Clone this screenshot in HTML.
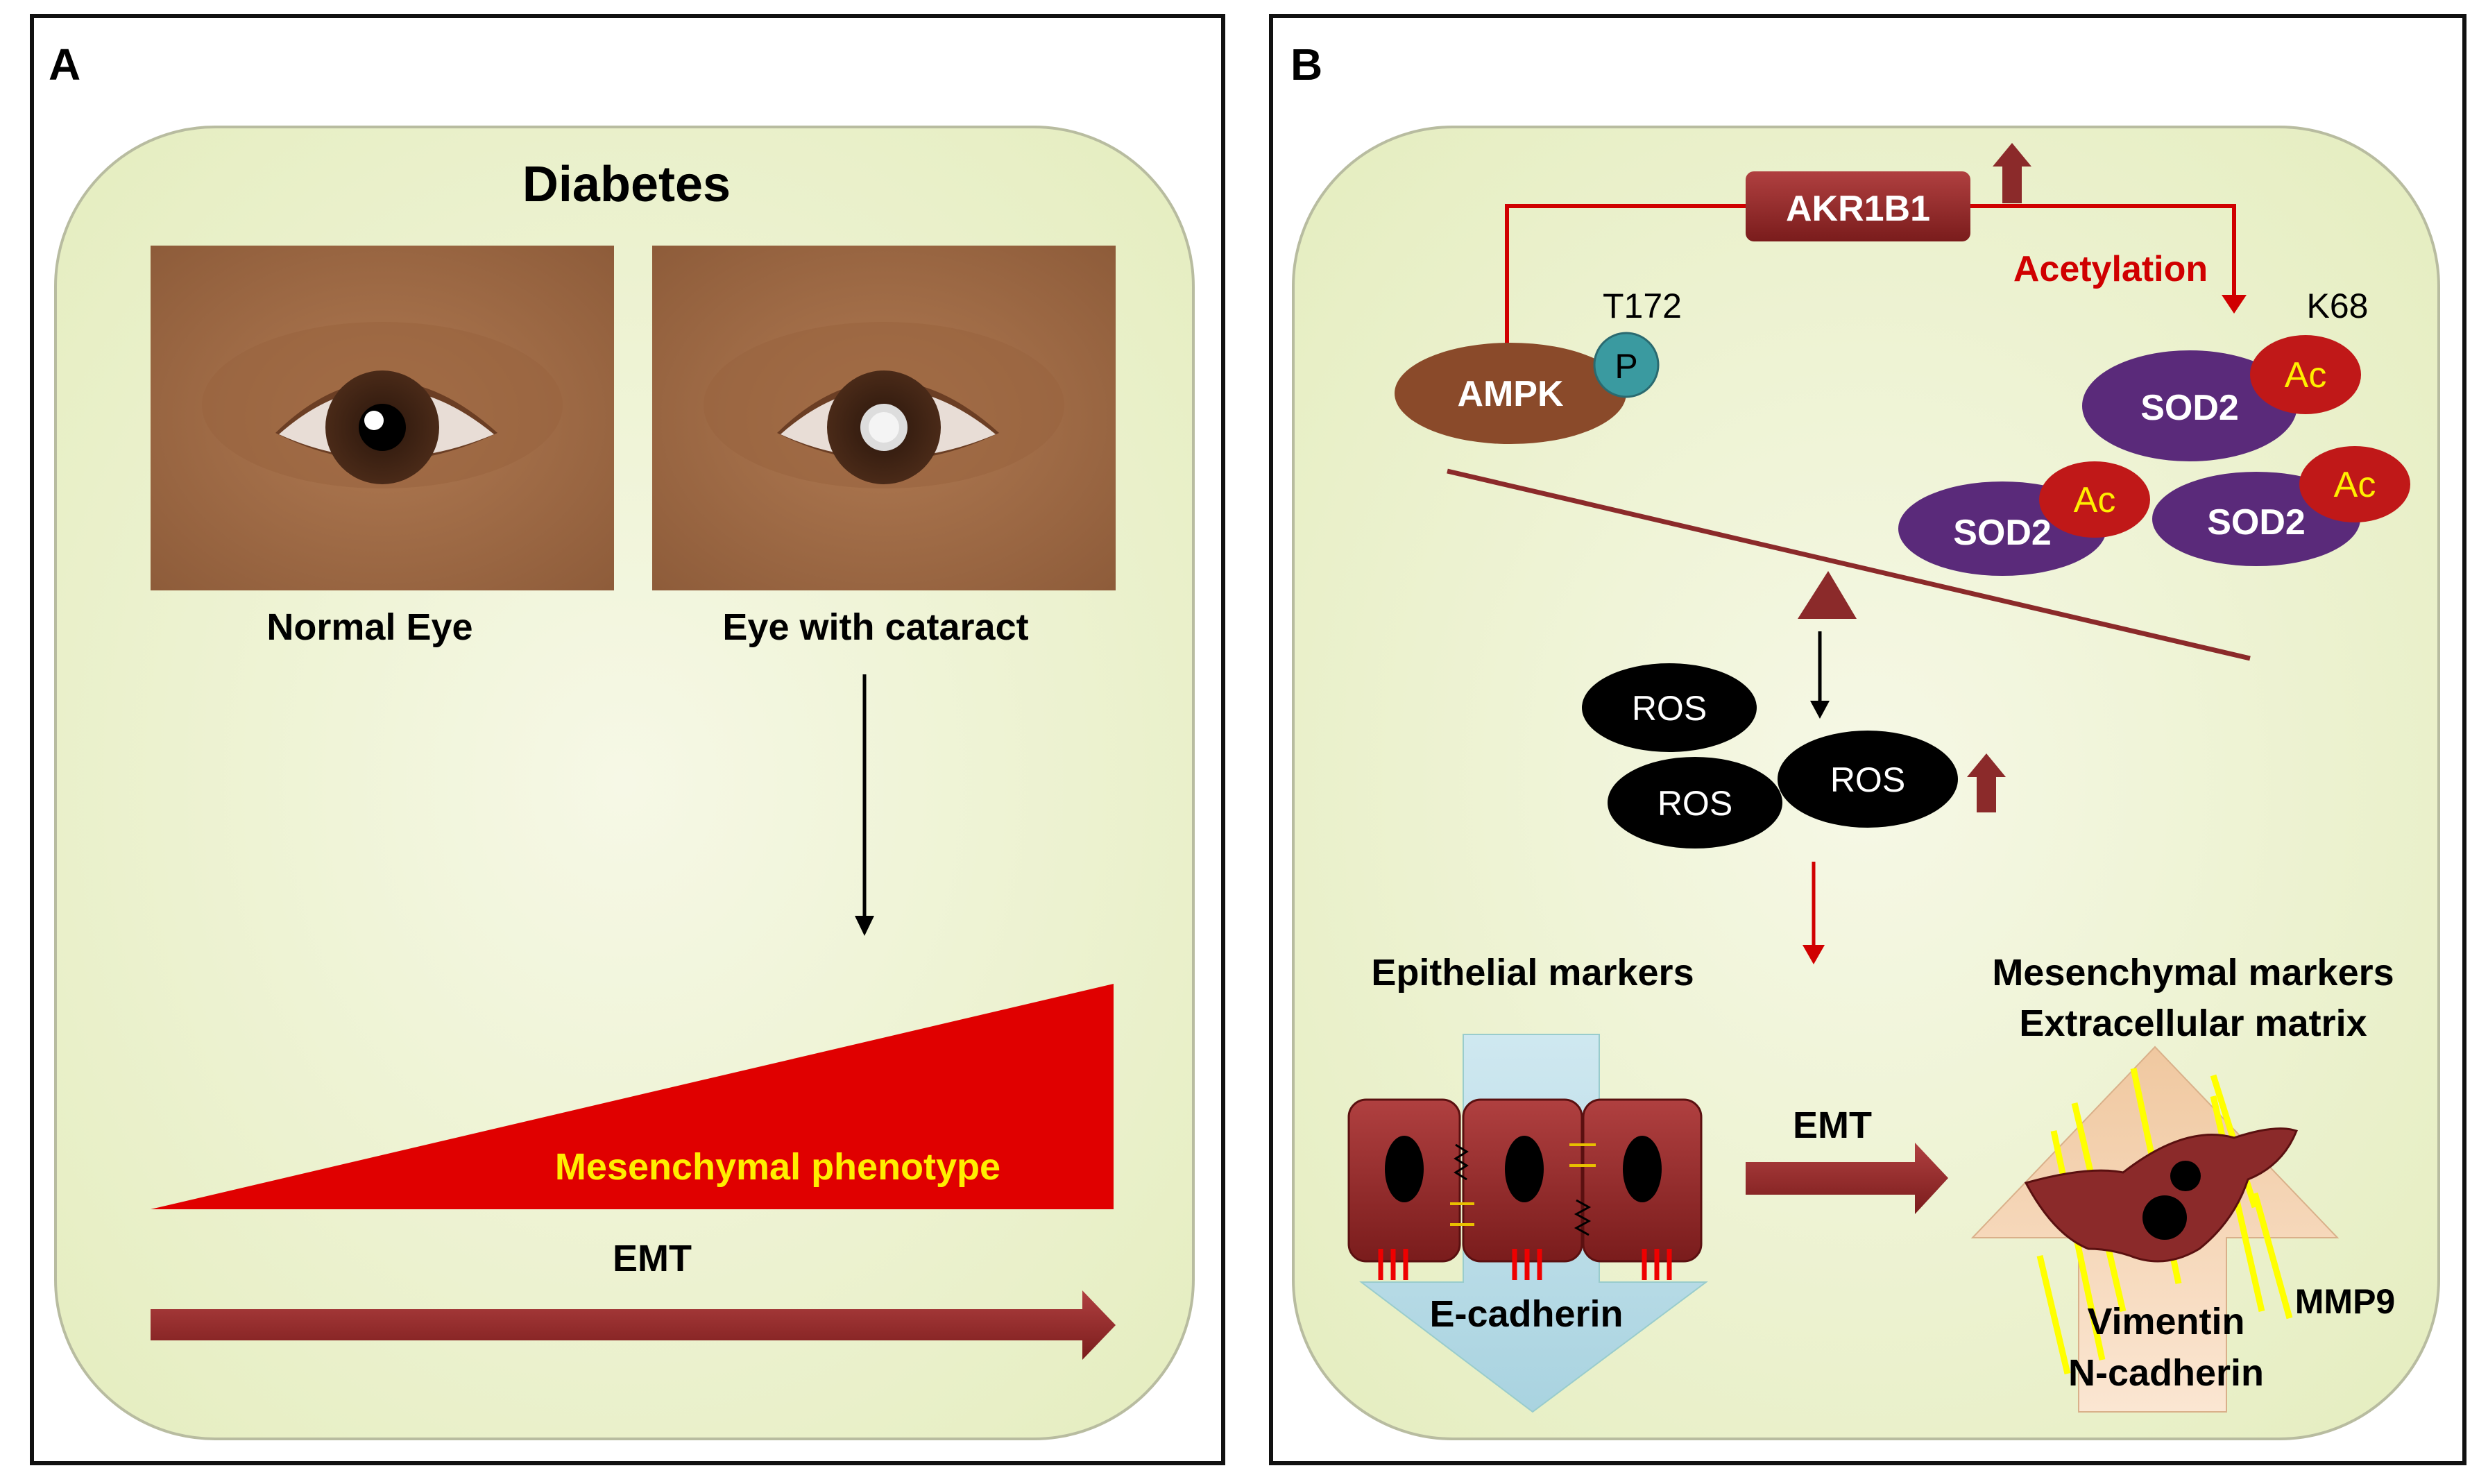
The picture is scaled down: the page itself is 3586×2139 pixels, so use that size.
<!DOCTYPE html>
<html><head><meta charset="utf-8"><style>html,body{margin:0;padding:0;background:#fff}svg{display:block}text{font-family:"Liberation Sans",Arial,sans-serif;font-weight:bold}</style></head>
<body>
<svg width="3586" height="2139" viewBox="0 0 3586 2139" xmlns="http://www.w3.org/2000/svg">
<defs>
<radialGradient id="bg" cx="50%" cy="50%" r="65%"><stop offset="0" stop-color="#f6f8e6"/><stop offset="1" stop-color="#e6eec2"/></radialGradient>
<radialGradient id="skin" cx="50%" cy="50%" r="70%"><stop offset="0" stop-color="#b07a52"/><stop offset="1" stop-color="#8e5c3a"/></radialGradient>
<radialGradient id="iris" cx="50%" cy="50%" r="50%"><stop offset="0" stop-color="#2a160c"/><stop offset="1" stop-color="#4a2a18"/></radialGradient>
<linearGradient id="red" x1="0" y1="0" x2="0" y2="1"><stop offset="0" stop-color="#b04040"/><stop offset="1" stop-color="#7a1c1c"/></linearGradient>
<linearGradient id="blue" x1="0" y1="0" x2="0" y2="1"><stop offset="0" stop-color="#cfe8f0"/><stop offset="1" stop-color="#a9d3e0"/></linearGradient>
<linearGradient id="peach" x1="0" y1="0" x2="0" y2="1"><stop offset="0" stop-color="#f0c8a0"/><stop offset="1" stop-color="#fbe6d2"/></linearGradient>
<g id="eye">
<rect x="0" y="0" width="668" height="497" fill="url(#skin)"/>
<ellipse cx="334" cy="230" rx="260" ry="120" fill="#9a6440" opacity="0.6"/>
<path d="M180 270 Q334 120 500 270 Q334 350 180 270Z" fill="#6b3e24"/>
<path d="M185 272 Q334 140 495 272 Q334 340 185 272Z" fill="#e8ddd6"/>
<circle cx="334" cy="262" r="82" fill="url(#iris)"/>
</g>
</defs>

<rect x="46" y="23" width="1717" height="2086" fill="#fff" stroke="#111" stroke-width="6"/>
<rect x="1832" y="23" width="1720" height="2086" fill="#fff" stroke="#111" stroke-width="6"/>
<rect x="80" y="183" width="1640" height="1891" rx="230" fill="url(#bg)" stroke="#b8bca0" stroke-width="4"/>
<rect x="1864" y="183" width="1651" height="1891" rx="230" fill="url(#bg)" stroke="#b8bca0" stroke-width="4"/>
<text x="70" y="115" font-size="64">A</text>
<text x="1860" y="115" font-size="64">B</text>

<!-- Panel A -->
<text x="903" y="290" font-size="72" text-anchor="middle">Diabetes</text>
<g transform="translate(217,354)"><use href="#eye"/><circle cx="334" cy="262" r="34" fill="#000"/><circle cx="322" cy="252" r="14" fill="#fff"/></g>
<g transform="translate(940,354)"><use href="#eye"/><circle cx="334" cy="262" r="34" fill="#ddd"/><circle cx="334" cy="262" r="22" fill="#f4f4f4"/></g>
<text x="533" y="922" font-size="54" text-anchor="middle">Normal Eye</text>
<text x="1262" y="922" font-size="54" text-anchor="middle">Eye with cataract</text>
<line x1="1246" y1="972" x2="1246" y2="1325" stroke="#000" stroke-width="5"/>
<path d="M1232 1320 L1260 1320 L1246 1349Z" fill="#000"/>
<path d="M217 1743 L1605 1418 L1605 1743Z" fill="#e00000"/>
<text x="1121" y="1700" font-size="54" fill="#ffee00" text-anchor="middle">Mesenchymal phenotype</text>
<text x="940" y="1832" font-size="54" text-anchor="middle">EMT</text>
<path d="M217 1887 L1560 1887 L1560 1860 L1608 1910 L1560 1960 L1560 1932 L217 1932Z" fill="url(#red)"/>

<!-- Panel B -->
<rect x="2516" y="247" width="324" height="101" rx="12" fill="url(#red)"/>
<text x="2678" y="318" font-size="52" fill="#fff" text-anchor="middle">AKR1B1</text>
<path d="M2886 293 L2886 240 L2872 240 L2900 206 L2928 240 L2914 240 L2914 293Z" fill="#8b2a2a"/>
<polyline points="2516,297 2172,297 2172,524" fill="none" stroke="#d00000" stroke-width="6"/>
<line x1="2138" y1="526" x2="2207" y2="526" stroke="#d00000" stroke-width="7"/>
<polyline points="2840,297 3220,297 3220,440" fill="none" stroke="#d00000" stroke-width="6"/>
<path d="M3202 425 L3238 425 L3220 452Z" fill="#d00000"/>
<text x="3042" y="405" font-size="52" fill="#d00000" text-anchor="middle">Acetylation</text>
<text x="2367" y="458" font-size="50" font-weight="normal" style="font-weight:normal" text-anchor="middle">T172</text>
<text x="3369" y="458" font-size="50" style="font-weight:normal" text-anchor="middle">K68</text>

<ellipse cx="2177" cy="567" rx="167" ry="73" fill="#8a4a2a"/>
<text x="2177" y="585" font-size="52" fill="#fff" text-anchor="middle">AMPK</text>
<circle cx="2344" cy="526" r="46" fill="#3a9aa0" stroke="#2a6a70" stroke-width="3"/>
<text x="2344" y="545" font-size="50" style="font-weight:normal" text-anchor="middle">P</text>

<ellipse cx="3156" cy="585" rx="155" ry="80" fill="#5a2a7a"/>
<text x="3156" y="605" font-size="52" fill="#fff" text-anchor="middle">SOD2</text>
<ellipse cx="3323" cy="540" rx="80" ry="57" fill="#c01818"/>
<text x="3323" y="558" font-size="52" fill="#ffee00" style="font-weight:normal" text-anchor="middle">Ac</text>
<ellipse cx="2886" cy="762" rx="150" ry="68" fill="#5a2a7a"/>
<text x="2886" y="785" font-size="52" fill="#fff" text-anchor="middle">SOD2</text>
<ellipse cx="3019" cy="720" rx="80" ry="55" fill="#c01818"/>
<text x="3019" y="738" font-size="52" fill="#ffee00" style="font-weight:normal" text-anchor="middle">Ac</text>
<ellipse cx="3252" cy="748" rx="150" ry="68" fill="#5a2a7a"/>
<text x="3252" y="770" font-size="52" fill="#fff" text-anchor="middle">SOD2</text>
<ellipse cx="3394" cy="698" rx="80" ry="55" fill="#c01818"/>
<text x="3394" y="716" font-size="52" fill="#ffee00" style="font-weight:normal" text-anchor="middle">Ac</text>

<line x1="2086" y1="679" x2="3243" y2="949" stroke="#8b2a2a" stroke-width="7"/>
<path d="M2635 823 L2591 892 L2676 892Z" fill="#8b2a2a"/>
<line x1="2623" y1="910" x2="2623" y2="1015" stroke="#000" stroke-width="5"/>
<path d="M2609 1010 L2637 1010 L2623 1036Z" fill="#000"/>

<ellipse cx="2406" cy="1020" rx="126" ry="64" fill="#000"/>
<text x="2406" y="1038" font-size="50" fill="#fff" style="font-weight:normal" text-anchor="middle">ROS</text>
<ellipse cx="2443" cy="1157" rx="126" ry="66" fill="#000"/>
<text x="2443" y="1175" font-size="50" fill="#fff" style="font-weight:normal" text-anchor="middle">ROS</text>
<ellipse cx="2692" cy="1123" rx="130" ry="70" fill="#000"/>
<text x="2692" y="1141" font-size="50" fill="#fff" style="font-weight:normal" text-anchor="middle">ROS</text>
<path d="M2849 1171 L2849 1120 L2835 1120 L2863 1086 L2891 1120 L2877 1120 L2877 1171Z" fill="#8b2a2a"/>
<line x1="2614" y1="1242" x2="2614" y2="1370" stroke="#d00000" stroke-width="5"/>
<path d="M2598 1362 L2630 1362 L2614 1390Z" fill="#d00000"/>

<text x="2209" y="1420" font-size="54" text-anchor="middle">Epithelial markers</text>
<text x="3161" y="1420" font-size="54" text-anchor="middle">Mesenchymal markers</text>
<text x="3161" y="1493" font-size="54" text-anchor="middle">Extracellular matrix</text>

<path d="M2109 1491 L2305 1491 L2305 1848 L2459 1848 L2209 2035 L1962 1848 L2109 1848Z" fill="url(#blue)" stroke="#9cc" stroke-width="2"/>
<g fill="url(#red)" stroke="#5a1010" stroke-width="3">
<rect x="1944" y="1585" width="160" height="233" rx="25"/>
<rect x="2109" y="1585" width="171" height="233" rx="25"/>
<rect x="2282" y="1585" width="170" height="233" rx="25"/>
</g>
<ellipse cx="2024" cy="1685" rx="28" ry="48" fill="#000"/>
<ellipse cx="2197" cy="1685" rx="28" ry="48" fill="#000"/>
<ellipse cx="2367" cy="1685" rx="28" ry="48" fill="#000"/>
<g stroke="#e00" stroke-width="7">
<line x1="1990" y1="1800" x2="1990" y2="1845"/><line x1="2008" y1="1800" x2="2008" y2="1845"/><line x1="2026" y1="1800" x2="2026" y2="1845"/>
<line x1="2183" y1="1800" x2="2183" y2="1845"/><line x1="2201" y1="1800" x2="2201" y2="1845"/><line x1="2219" y1="1800" x2="2219" y2="1845"/>
<line x1="2370" y1="1800" x2="2370" y2="1845"/><line x1="2388" y1="1800" x2="2388" y2="1845"/><line x1="2406" y1="1800" x2="2406" y2="1845"/>
</g>
<polyline points="2098,1650 2114,1660 2098,1670 2114,1680 2098,1690 2114,1700" fill="none" stroke="#000" stroke-width="3"/>
<polyline points="2272,1730 2290,1740 2272,1750 2290,1760 2272,1770 2290,1780" fill="none" stroke="#000" stroke-width="3"/>
<g stroke="#e8c000" stroke-width="4"><line x1="2090" y1="1735" x2="2125" y2="1735"/><line x1="2090" y1="1765" x2="2125" y2="1765"/><line x1="2262" y1="1650" x2="2300" y2="1650"/><line x1="2262" y1="1680" x2="2300" y2="1680"/></g>
<text x="2200" y="1912" font-size="54" text-anchor="middle">E-cadherin</text>

<text x="2641" y="1640" font-size="54" text-anchor="middle">EMT</text>
<path d="M2516 1675 L2760 1675 L2760 1647 L2808 1698 L2760 1750 L2760 1722 L2516 1722Z" fill="url(#red)"/>

<path d="M3106 1509 L3369 1784 L3209 1784 L3209 2035 L2996 2035 L2996 1784 L2843 1784Z" fill="url(#peach)" stroke="#d9b08a" stroke-width="2"/>
<g stroke="#ffff00" stroke-width="9">
<line x1="2990" y1="1590" x2="3060" y2="1890"/><line x1="2960" y1="1630" x2="3030" y2="1960"/>
<line x1="3075" y1="1540" x2="3140" y2="1850"/><line x1="3190" y1="1580" x2="3260" y2="1890"/>
<line x1="3190" y1="1550" x2="3250" y2="1740"/><line x1="3250" y1="1720" x2="3300" y2="1900"/>
<line x1="2940" y1="1810" x2="2980" y2="1980"/>
</g>
<path d="M2920 1705 Q3010 1680 3060 1690 Q3150 1620 3220 1640 Q3280 1620 3310 1630 Q3290 1680 3240 1700 Q3220 1760 3170 1800 Q3120 1830 3070 1810 Q3040 1800 3010 1800 Q2960 1780 2920 1705Z" fill="#8b2a2a" stroke="#5a1010" stroke-width="3"/>
<circle cx="3120" cy="1755" r="32" fill="#000"/>
<circle cx="3150" cy="1695" r="22" fill="#000"/>
<text x="3122" y="1923" font-size="54" text-anchor="middle">Vimentin</text>
<text x="3122" y="1997" font-size="54" text-anchor="middle">N-cadherin</text>
<text x="3380" y="1893" font-size="50" text-anchor="middle">MMP9</text>
</svg>
</body></html>
